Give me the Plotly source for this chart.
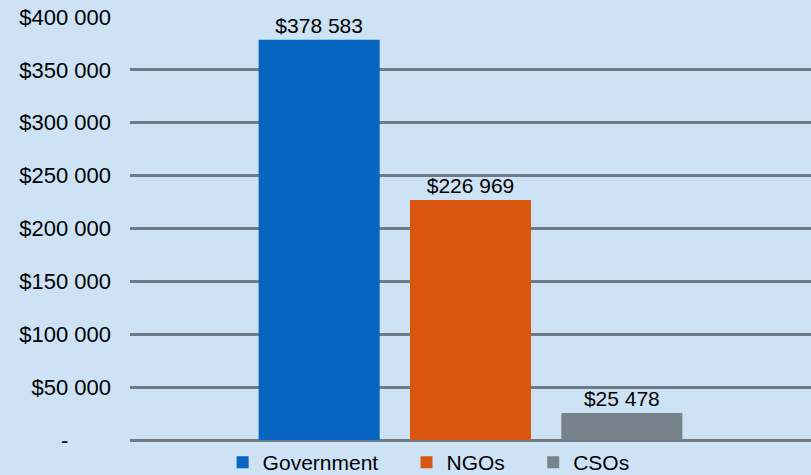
import plotly.graph_objects as go

categories = ["Government", "NGOs", "CSOs"]
values = [378583, 226969, 25478]
colors = ["#0565c0", "#d8560f", "#77828b"]
tick_values = [0, 50000, 100000, 150000, 200000, 250000, 300000, 350000, 400000]


def fmt(v):
    if v == 0:
        return "-" + "\u00a0" * 7
    return "$" + f"{v:,}".replace(",", " ")


tick_text = [fmt(v) for v in tick_values]

fig = go.Figure()
for cat, val, col in zip(categories, values, colors):
    fig.add_trace(go.Bar(
        x=[cat], y=[val], name=cat + "\u00a0" * 4,
        marker=dict(color=col, line=dict(width=0)),
        width=0.8,
        text=[fmt(val)], textposition="outside",
        textfont=dict(color="black", size=21, family="Liberation Sans, Arial"),
        cliponaxis=False,
    ))

bg = "#cde3f5"
fig.update_layout(
    width=811, height=475,
    margin=dict(l=130, r=0, t=17, b=35, autoexpand=False),
    paper_bgcolor=bg, plot_bgcolor=bg,
    barmode="overlay",
    font=dict(family="Liberation Sans, Arial", size=21, color="black"),
    showlegend=True,
    legend=dict(orientation="h", x=0.136, xanchor="left", y=-0.1016, yanchor="bottom",
                font=dict(size=21, color="black"), bgcolor="rgba(0,0,0,0)",
                itemclick=False),
    xaxis=dict(categoryorder="array", categoryarray=categories,
               range=[-1.25, 3.25], showticklabels=False, showgrid=False,
               zeroline=False, showline=False, automargin=False),
    yaxis=dict(range=[0, 400000], tickvals=tick_values, ticktext=tick_text,
               showgrid=True, gridcolor="#6f7c87", gridwidth=3,
               zeroline=True, zerolinecolor="#6f7c87", zerolinewidth=3,
               showline=False, ticks="", ticklabelstandoff=18, automargin=False,
               tickfont=dict(size=22, color="black")),
)

fig.write_html("out.html", config={"displayModeBar": False},
               post_script="document.body.style.margin='0';document.body.style.background='#cde3f5';")
